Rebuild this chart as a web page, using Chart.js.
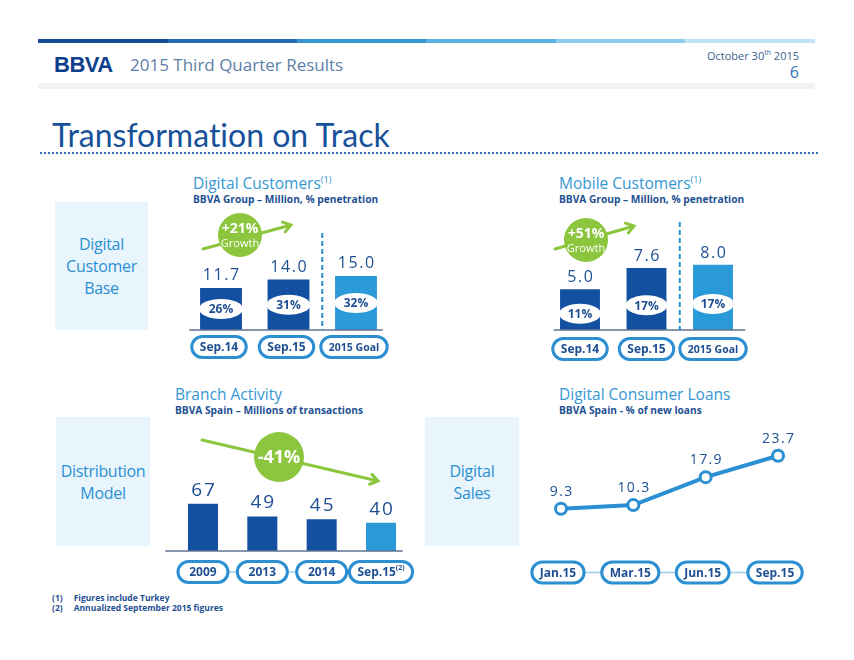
<!DOCTYPE html>
<html>
<head>
<meta charset="utf-8">
<title>Transformation on Track</title>
<script src="https://cdn.jsdelivr.net/npm/chart.js@4.4.1/dist/chart.umd.min.js"></script>
<style>
    body { margin: 0; background: #fff; }
    #slide { position: relative; width: 854px; height: 660px; overflow: hidden; font-family: 'Open Sans', sans-serif; }
    #slide div, #slide h1 { position: absolute; margin: 0; white-space: nowrap; line-height: 1; }
    .seg { top: 39px; height: 4px; width: 130px; }
    .band { left: 38px; top: 83px; width: 777px; height: 6px; background: #f2f2f2; }
    .logo { left: 54px; top: 54px; font: bold 22px 'Liberation Sans', sans-serif; color: #0d3f8c; letter-spacing: -0.5px; }
    .deck { left: 130px; top: 56px; font-size: 17px; color: #5d80a8; }
    .date { right: 55px; top: 49px; font-size: 11px; color: #3a5f8e; }
    .date sup { font-size: 7px; }
    .pageno { right: 55px; top: 64px; font-size: 16px; color: #2a74b8; }
    h1 { left: 52px; top: 119px; font-weight: normal; font-family: Lato, sans-serif; font-size: 32px; color: #17519a; font-variant-ligatures: none; }
    .dots { left: 40px; top: 152px; width: 778px; height: 0; border-top: 2px dotted #2f6fb5; }
    .box { background: #e9f5fd; color: #2b8fd2; font-size: 16px; text-align: center; line-height: 22px !important; display: flex; align-items: center; justify-content: center; letter-spacing: -0.3px; }
    .ttl { font-size: 15.5px; color: #3597d3; }
    .ttl sup { font-size: 9px; }
    .sub { font-size: 10.2px; font-weight: bold; color: #1e4f92; }
    .note { font-size: 8.5px; font-weight: bold; color: #1e4f92; }
    canvas { position: absolute; left: 0; top: 0; }
</style>
</head>
<body>
<div id="slide">
    <div class="seg" style="left:38px;background:#164a93"></div>
    <div class="seg" style="left:168px;background:#2569b0"></div>
    <div class="seg" style="left:297px;background:#3596d0"></div>
    <div class="seg" style="left:426px;background:#5cb3e2"></div>
    <div class="seg" style="left:556px;background:#8ecbee"></div>
    <div class="seg" style="left:685px;background:#c0e1f5"></div>
    <div class="logo">BBVA</div>
    <div class="deck">2015 Third Quarter Results</div>
    <div class="date">October 30<sup>th</sup> 2015</div>
    <div class="pageno">6</div>
    <div class="band"></div>
    <h1>Transformation on Track</h1>
    <div class="dots"></div>

    <div class="box" style="left:55px;top:202px;width:93px;height:128px">Digital<br>Customer<br>Base</div>
    <div class="box" style="left:56px;top:417px;width:94px;height:129px">Distribution<br>Model</div>
    <div class="box" style="left:425px;top:417px;width:94px;height:129px">Digital<br>Sales</div>

    <div class="ttl" style="left:193px;top:175px">Digital Customers<sup>(1)</sup></div>
    <div class="sub" style="left:193px;top:194px">BBVA Group – Million, % penetration</div>
    <div class="ttl" style="left:559px;top:175px">Mobile Customers<sup>(1)</sup></div>
    <div class="sub" style="left:559px;top:194px">BBVA Group – Million, % penetration</div>
    <div class="ttl" style="left:175px;top:387px">Branch Activity</div>
    <div class="sub" style="left:175px;top:405px">BBVA Spain – Millions of transactions</div>
    <div class="ttl" style="left:559px;top:387px">Digital Consumer Loans</div>
    <div class="sub" style="left:559px;top:405px">BBVA Spain - % of new loans</div>

    <div class="note" style="left:52px;top:594px">(1)&nbsp;&nbsp;&nbsp;&nbsp;&nbsp;Figures include Turkey</div>
    <div class="note" style="left:52px;top:604px">(2)&nbsp;&nbsp;&nbsp;&nbsp;&nbsp;Annualized September 2015 figures</div>

    <canvas id="digitalChart" width="854" height="660"></canvas>
    <canvas id="mobileChart" width="854" height="660"></canvas>
    <canvas id="branchChart" width="854" height="660"></canvas>
    <canvas id="loansChart" width="854" height="660"></canvas>
</div>

<script>
// Data
const customerPeriods = ['Sep.14', 'Sep.15', '2015 Goal'];
const digitalCustomers = [11.7, 14.0, 15.0];
const digitalPenetration = [26, 31, 32];
const mobileCustomers = [5.0, 7.6, 8.0];
const mobilePenetration = [11, 17, 17];

const branchPeriods = ['2009', '2013', '2014', 'Sep.15'];
const branchNotes = ['', '', '', '(2)'];
const branchTransactions = [67, 49, 45, 40];

const loanPeriods = ['Jan.15', 'Mar.15', 'Jun.15', 'Sep.15'];
const digitalLoanShare = [9.3, 10.3, 17.9, 23.7];

const DARK = '#1450a0';
const LIGHT = '#2a9ad8';
const INK = '#1e4f92';
const RING = '#2b8fd2';
const GREEN = '#8cc63f';
const FONT = "'Open Sans', sans-serif";

// every canvas covers the whole slide, the padding places the plot area
function area(left, top, right, bottom) {
    return { left: left, top: top, right: 854 - right, bottom: 660 - bottom };
}

function pill(ctx, cx, cy, text, note, size) {
    ctx.font = 'bold ' + size + 'px ' + FONT;
    const tw = ctx.measureText(text).width;
    ctx.font = 'bold 7px ' + FONT;
    const nw = note ? ctx.measureText(note).width : 0;
    const w = Math.max(50, tw + nw + 16);
    const h = 21;
    ctx.beginPath();
    ctx.roundRect(cx - w / 2, cy - h / 2, w, h, h / 2);
    ctx.fillStyle = '#fff';
    ctx.fill();
    ctx.lineWidth = 3;
    ctx.strokeStyle = RING;
    ctx.stroke();
    ctx.fillStyle = INK;
    ctx.textAlign = 'left';
    ctx.textBaseline = 'middle';
    const x0 = cx - (tw + nw) / 2;
    ctx.font = 'bold ' + size + 'px ' + FONT;
    ctx.fillText(text, x0, cy + 1);
    if (note) {
        ctx.font = 'bold 7px ' + FONT;
        ctx.fillText(note, x0 + tw, cy - 4);
    }
}

const decor = {
    id: 'decor',
    afterDatasetsDraw(chart, args, opts) {
        const ctx = chart.ctx;
        const ca = chart.chartArea;
        const pts = chart.getDatasetMeta(0).data;
        const values = chart.data.datasets[0].data;
        ctx.save();

        if (opts.baseline) {
            ctx.beginPath();
            ctx.moveTo(ca.left + opts.baseline[0], ca.bottom);
            ctx.lineTo(ca.right - opts.baseline[1], ca.bottom);
            ctx.lineWidth = 1.5;
            ctx.strokeStyle = '#5f7391';
            ctx.stroke();
        }

        if (opts.dividerTop) {
            const x = (pts[1].x + pts[2].x) / 2;
            ctx.beginPath();
            ctx.setLineDash([5, 3]);
            ctx.moveTo(x, opts.dividerTop);
            ctx.lineTo(x, ca.bottom);
            ctx.lineWidth = 2;
            ctx.strokeStyle = RING;
            ctx.stroke();
            ctx.setLineDash([]);
        }

        // value labels
        ctx.fillStyle = INK;
        ctx.textAlign = 'center';
        ctx.textBaseline = 'alphabetic';
        ctx.font = opts.valueFont;
        pts.forEach((p, i) => {
            const txt = opts.decimals ? values[i].toFixed(1) : String(values[i]);
            ctx.fillText(txt.split('').join(String.fromCharCode(8202)), p.x, p.y - opts.valueGap);
        });

        // penetration ovals
        if (opts.ovals) {
            pts.forEach((p, i) => {
                const cy = p.base - (p.base - p.y) * opts.ovalAt;
                ctx.beginPath();
                ctx.ellipse(p.x, cy, p.width / 2 + 1, 10, 0, 0, Math.PI * 2);
                ctx.fillStyle = '#fff';
                ctx.fill();
                ctx.fillStyle = INK;
                ctx.font = 'bold 12px ' + FONT;
                ctx.textBaseline = 'middle';
                ctx.fillText(opts.ovals[i] + '%', p.x, cy + 1);
            });
        }

        // category pills under the plot
        const xs = chart.scales.x;
        const labels = chart.data.labels;
        if (opts.connect) {
            ctx.beginPath();
            ctx.moveTo(xs.getPixelForValue(0), opts.pillY);
            ctx.lineTo(xs.getPixelForValue(labels.length - 1), opts.pillY);
            ctx.lineWidth = 1.5;
            ctx.strokeStyle = '#9fd0ef';
            ctx.stroke();
        }
        labels.forEach((lab, i) => {
            const note = opts.notes ? opts.notes[i] : '';
            const size = lab.length > 7 ? 10.5 : 12;
            pill(ctx, xs.getPixelForValue(i) + (opts.pillShift || 0), opts.pillY, lab, note, size);
        });

        // growth badge
        if (opts.badge) {
            const b = opts.badge;
            const ang = Math.atan2(b.y2 - b.y1, b.x2 - b.x1);
            ctx.strokeStyle = GREEN;
            ctx.lineWidth = 3;
            ctx.lineCap = 'round';
            ctx.beginPath();
            ctx.moveTo(b.x1, b.y1);
            ctx.lineTo(b.x2, b.y2);
            ctx.moveTo(b.x2 - 9 * Math.cos(ang - 0.6), b.y2 - 9 * Math.sin(ang - 0.6));
            ctx.lineTo(b.x2, b.y2);
            ctx.lineTo(b.x2 - 9 * Math.cos(ang + 0.6), b.y2 - 9 * Math.sin(ang + 0.6));
            ctx.stroke();
            ctx.beginPath();
            ctx.arc(b.cx, b.cy, b.r, 0, Math.PI * 2);
            ctx.fillStyle = GREEN;
            ctx.fill();
            ctx.fillStyle = '#fff';
            ctx.textAlign = 'center';
            ctx.textBaseline = 'middle';
            if (b.sub) {
                ctx.font = 'bold 14px ' + FONT;
                ctx.fillText(b.text, b.cx, b.cy - 6);
                ctx.font = '11px ' + FONT;
                ctx.fillText(b.sub, b.cx, b.cy + 9);
            } else {
                ctx.font = 'bold 18px ' + FONT;
                ctx.fillText(b.text, b.cx, b.cy + 1);
            }
        }
        ctx.restore();
    }
};

function hiddenScales(yMax) {
    return {
        x: { display: false, offset: true },
        y: { display: false, min: 0, max: yMax }
    };
}

function customerChart(id, values, shares, yMax, pad, extra) {
    new Chart(document.getElementById(id), {
        type: 'bar',
        data: {
            labels: customerPeriods,
            datasets: [{
                data: values,
                backgroundColor: [DARK, DARK, LIGHT],
                categoryPercentage: 1,
                barPercentage: pad.bar
            }]
        },
        options: {
            responsive: false,
            animation: false,
            layout: { padding: pad.area },
            scales: hiddenScales(yMax),
            plugins: {
                legend: { display: false },
                tooltip: { enabled: false },
                decor: Object.assign({
                    decimals: true,
                    valueFont: '16px ' + FONT,
                    valueGap: 8,
                    ovals: shares,
                    pillY: 347
                }, extra)
            }
        },
        plugins: [decor]
    });
}

customerChart('digitalChart', digitalCustomers, digitalPenetration, 20,
    { area: area(187.25, 258, 389.75, 330), bar: 0.62 },
    { ovalAt: 0.5, dividerTop: 233, pillShift: -2, baseline: [2, 7],
      badge: { cx: 240, cy: 235, r: 22, text: '+21%', sub: 'Growth', x1: 203, y1: 249, x2: 291, y2: 225 } });

customerChart('mobileChart', mobileCustomers, mobilePenetration, 10,
    { area: area(546.75, 248.5, 746.25, 330), bar: 0.6 },
    { ovalAt: 0.4, dividerTop: 222, pillY: 349, valueGap: 7, baseline: [7, 1],
      badge: { cx: 586, cy: 240, r: 22, text: '+51%', sub: 'Growth', x1: 555, y1: 249, x2: 634, y2: 226 } });

new Chart(document.getElementById('branchChart'), {
    type: 'bar',
    data: {
        labels: branchPeriods,
        datasets: [{
            data: branchTransactions,
            backgroundColor: [DARK, DARK, DARK, LIGHT],
            categoryPercentage: 1,
            barPercentage: 0.506
        }]
    },
    options: {
        responsive: false,
        animation: false,
        layout: { padding: area(173.3, 480.5, 410.7, 551) },
        scales: hiddenScales(100),
        plugins: {
            legend: { display: false },
            tooltip: { enabled: false },
            decor: {
                valueFont: '19px ' + FONT,
                valueGap: 8,
                baseline: [-8, 8],
                pillY: 572,
                connect: true,
                notes: branchNotes,
                badge: { cx: 279, cy: 457, r: 25, text: '-41%', x1: 202, y1: 440, x2: 378, y2: 481 }
            }
        }
    },
    plugins: [decor]
});

new Chart(document.getElementById('loansChart'), {
    type: 'line',
    data: {
        labels: loanPeriods,
        datasets: [{
            data: digitalLoanShare,
            borderColor: RING,
            borderWidth: 4,
            pointRadius: 5.5,
            pointBorderWidth: 3,
            pointBackgroundColor: '#fff',
            pointBorderColor: RING,
            clip: false
        }]
    },
    options: {
        responsive: false,
        animation: false,
        layout: { padding: area(524.8, 432.6, 814.2, 543) },
        scales: hiddenScales(30),
        plugins: {
            legend: { display: false },
            tooltip: { enabled: false },
            decor: {
                decimals: true,
                valueFont: '14px ' + FONT,
                valueGap: 13,
                pillY: 572.5,
                pillShift: -3,
                connect: true
            }
        }
    },
    plugins: [decor]
});
</script>
</body>
</html>
